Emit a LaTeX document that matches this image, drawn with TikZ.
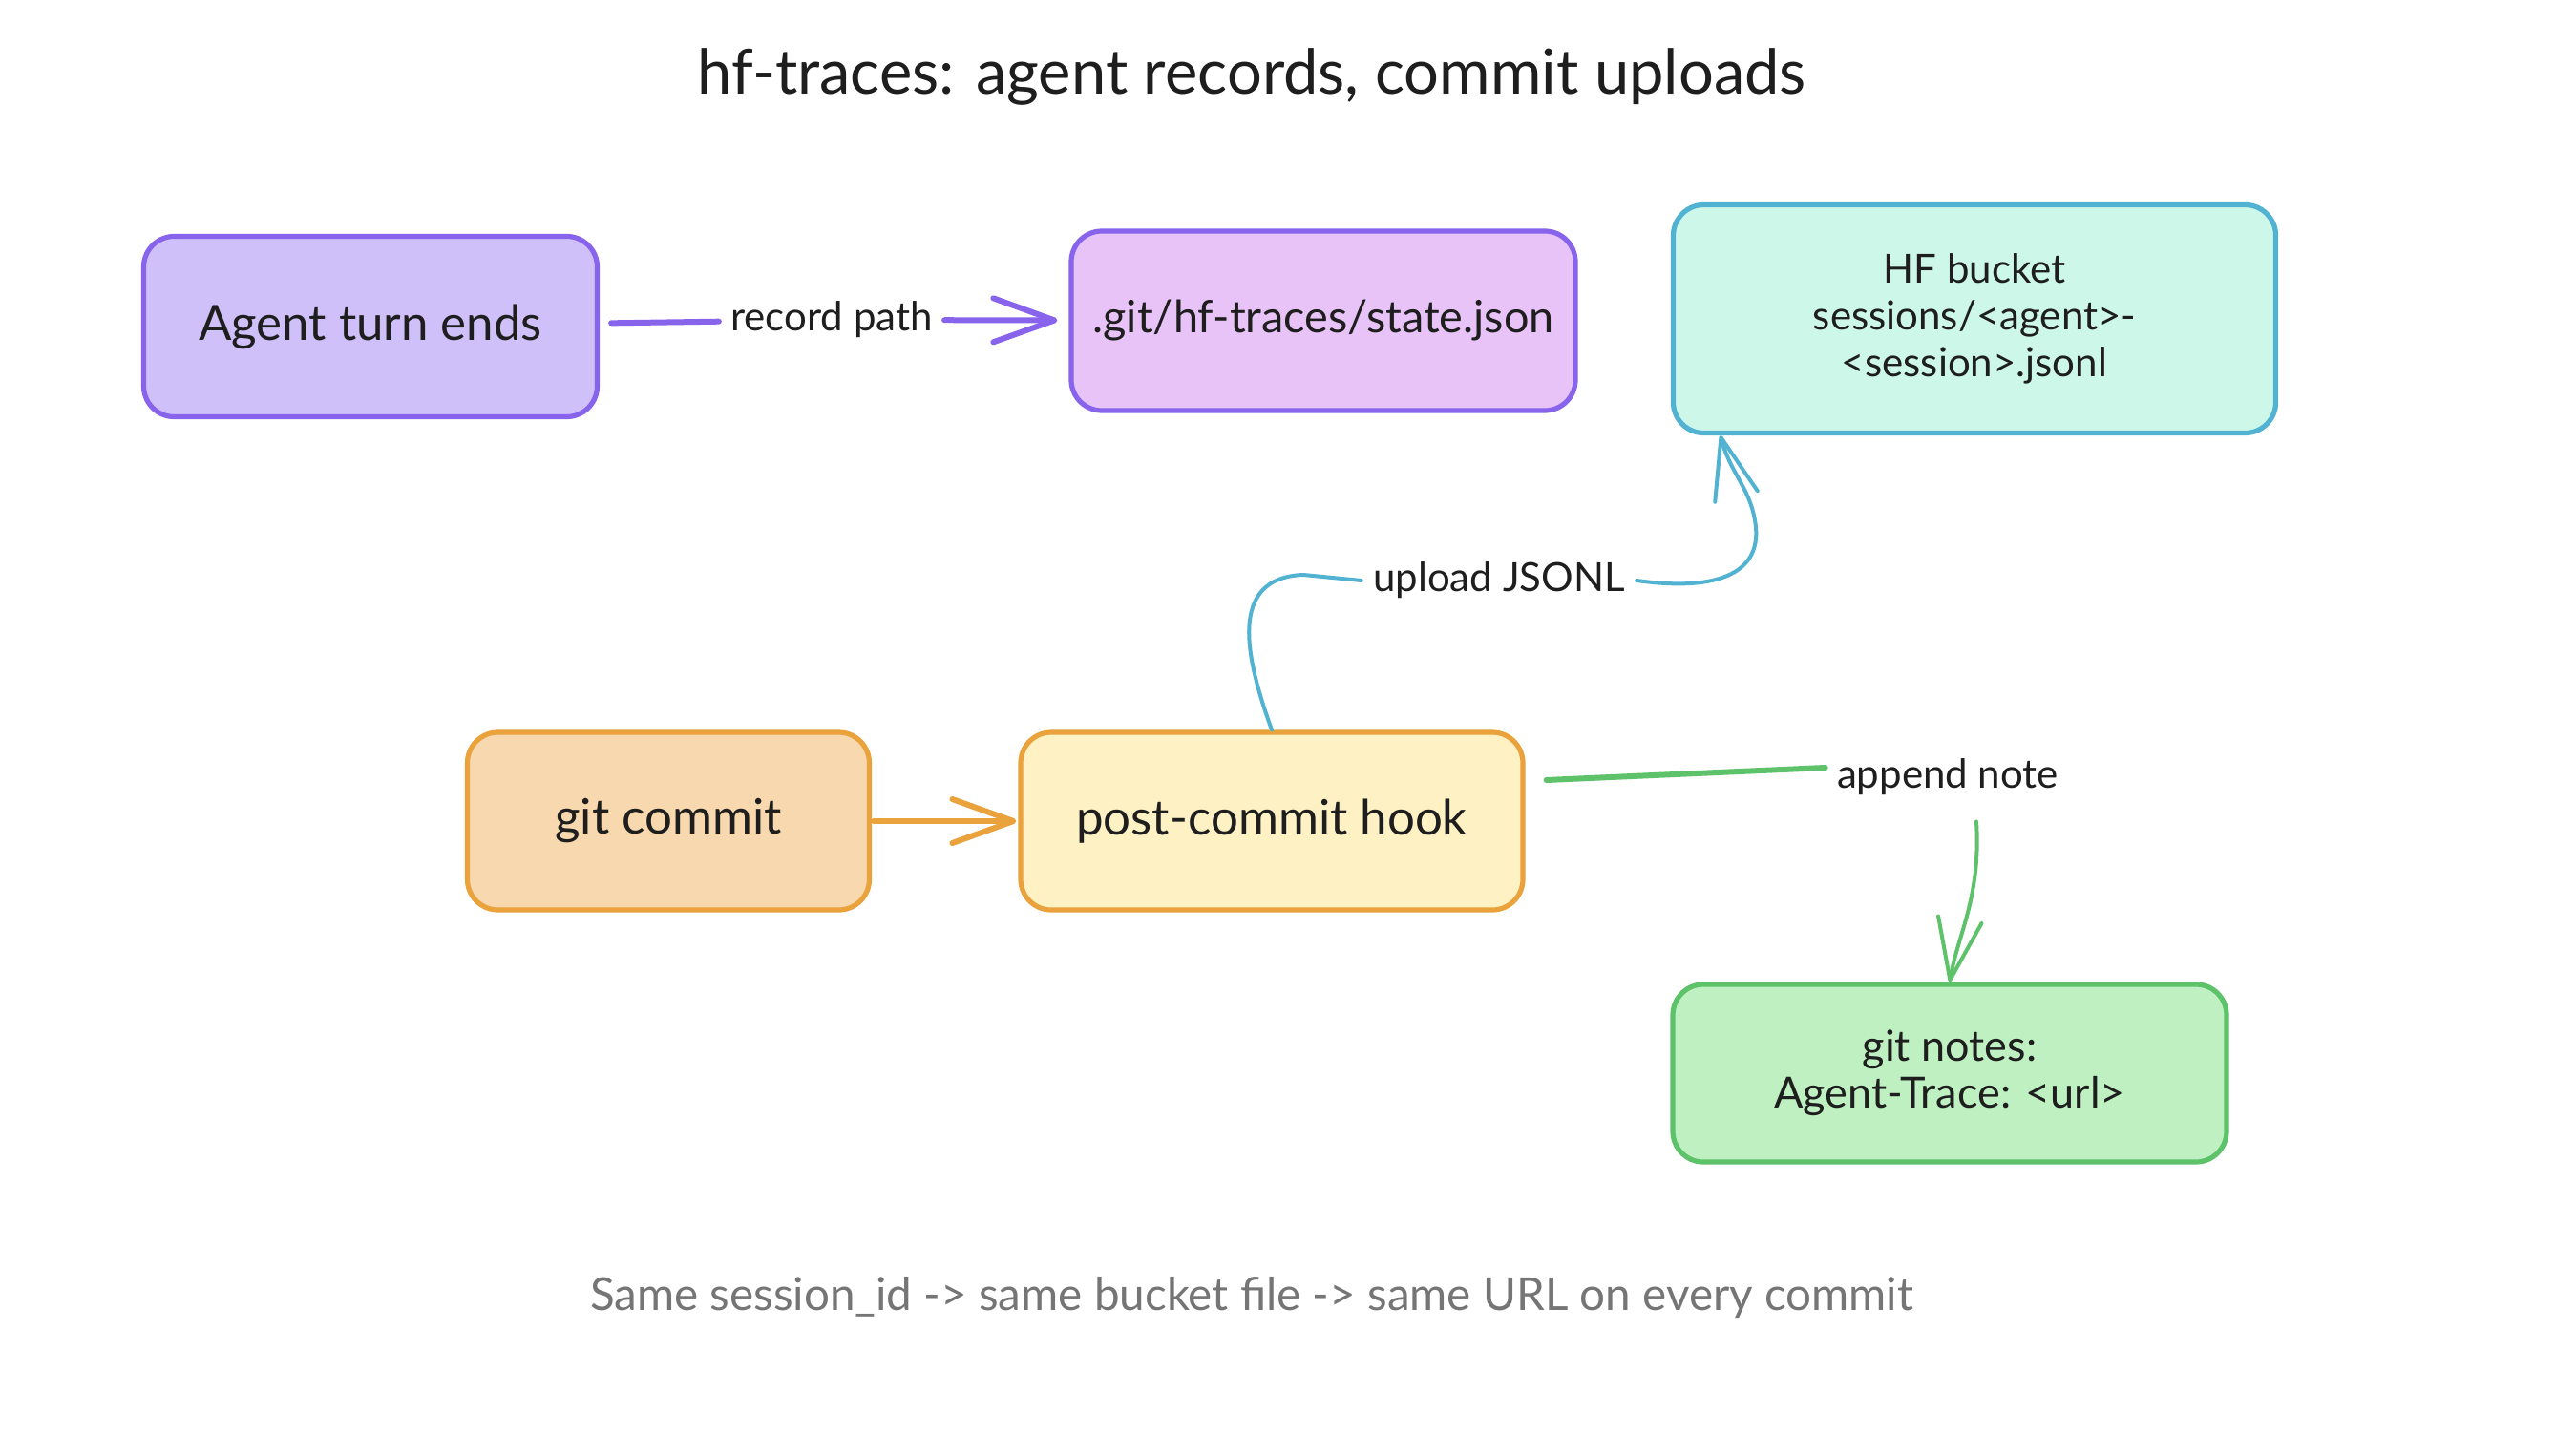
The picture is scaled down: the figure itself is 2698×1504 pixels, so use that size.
\documentclass[tikz,border=0pt]{standalone}
\usepackage{fontspec}
\setmainfont{Lato}
\usetikzlibrary{arrows.meta,calc}
\definecolor{ink}{HTML}{1E1E1E}
\definecolor{purp}{HTML}{8863EB}
\definecolor{lav}{HTML}{D0C0FA}
\definecolor{mauve}{HTML}{E8C3F7}
\definecolor{blu}{HTML}{52B2D1}
\definecolor{mint}{HTML}{CDF7E8}
\definecolor{orng}{HTML}{E9A23C}
\definecolor{peach}{HTML}{F8D8AE}
\definecolor{cream}{HTML}{FEF2C4}
\definecolor{grn}{HTML}{5DC26A}
\definecolor{lgrn}{HTML}{BFF0C1}
\definecolor{footgray}{HTML}{757575}
\newcommand{\titlefont}{\fontsize{32.5}{38}\selectfont}
\newcommand{\bigfont}{\fontsize{25.5}{30}\selectfont}
\newcommand{\midfont}{\fontsize{23.4}{28}\selectfont}
\newcommand{\smfont}{\fontsize{21}{24.5}\selectfont}
\newcommand{\notefont}{\fontsize{22.5}{24.5}\selectfont}
\newcommand{\lblfont}{\fontsize{21}{25}\selectfont}
\newcommand{\footfont}{\fontsize{23.8}{28}\selectfont}
\begin{document}
\begin{tikzpicture}[x=0.5pt,y=-0.5pt,
  box/.style={draw, rounded corners=16pt, line width=2.6pt, align=center, text=ink, inner sep=0pt},
  lbl/.style={font=\lblfont, text=ink, inner sep=6pt},
  tipped/.style={-{Straight Barb[length=32pt,width=23pt,round]}},
  conn/.style={line cap=round, line join=round}]
\useasboundingbox (0,0) rectangle (2698,1504);
\fill[white] (0,0) rectangle (2698,1504);

\node[font=\titlefont, text=ink] (title) at (1311,80) {hf-traces: agent records, commit uploads};

\node[box, draw=purp, fill=lav, minimum width=237.5pt, minimum height=94.5pt, font=\bigfont] (agent) at (388,342) {Agent turn ends};
\node[box, draw=purp, fill=mauve, minimum width=264pt, minimum height=94pt, font=\midfont] (state) at (1386,336) {.git/hf-traces/state.json};
\node[box, draw=blu, fill=mint, minimum width=315.5pt, minimum height=119.5pt, font=\smfont] (bucket) at (2068,334) {HF bucket\\sessions/<agent>-\\<session>.jsonl};
\node[box, draw=orng, fill=peach, minimum width=210.5pt, minimum height=93pt, font=\bigfont] (commit) at (700,860) {git commit};
\node[box, draw=orng, fill=cream, minimum width=263pt, minimum height=93pt, font=\bigfont] (hook) at (1332,860) {post-commit hook};
\node[box, draw=grn, fill=lgrn, minimum width=290pt, minimum height=93pt, font=\notefont] (notes) at (2042,1124) {git notes:\\Agent-Trace: <url>};

\node[lbl] (record) at (871,335) {record path};
\node[lbl] (upload) at (1570,608) {upload JSONL};
\node[lbl] (append) at (2040,814) {append note};

\node[font=\footfont, text=footgray] (footer) at (1311,1359) {Same session\_id -> same bucket file -> same URL on every commit};

% record path
\draw[conn, purp, line width=3pt, shorten <=6pt] (agent) -- (record);
\draw[conn, purp, line width=3pt, tipped, shorten >=6pt] (record) -- (state);
% git commit -> hook
\draw[conn, orng, line width=3pt, tipped, shorten <=1pt, shorten >=1pt] (commit) -- (hook);
% upload JSONL
\draw[conn, blu, line width=2pt] (hook.north) .. controls (1305,690) and (1285,605) .. (1365,602) -- (upload.west);
\draw[conn, blu, line width=2pt, tipped] (upload.east) .. controls (1800,620) and (1848,600) .. (1838,545) .. controls (1832,510) and (1812,495) .. ($(bucket.south west)+(52,0)$);
% append note
\draw[conn, grn, line width=3pt] ($(hook.east)+(22,-43)$) -- ($(append.west)+(0,-10)$);
\draw[conn, grn, line width=2pt, tipped] ($(append.south)+(30,15)$) .. controls (2075,940) and (2050,980) .. (notes.north);
\end{tikzpicture}
\end{document}
